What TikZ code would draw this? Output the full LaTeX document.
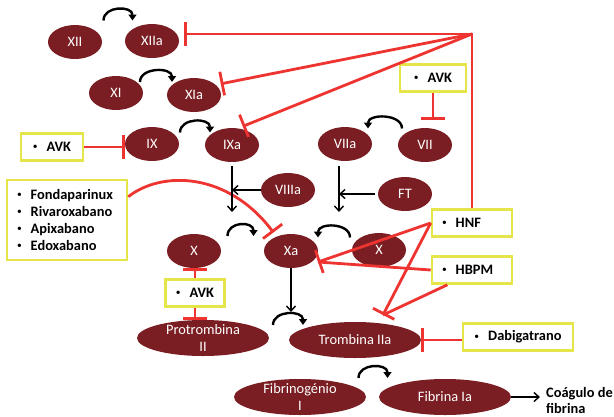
\documentclass[tikz,border=0pt]{standalone}
\usepackage{fontspec}
\setmainfont{Carlito}
\usetikzlibrary{shapes.geometric,arrows.meta,calc}

\definecolor{blutrot}{RGB}{122,30,35}
\definecolor{hemmrot}{RGB}{237,52,48}
\definecolor{gelb}{RGB}{229,229,74}

\begin{document}
\begin{tikzpicture}[x=1pt,y=-1pt,
    font=\fontsize{14.4}{17}\selectfont,
    faktor/.style={ellipse, fill=blutrot, text=white, minimum width=54pt, minimum height=34pt, inner sep=0pt},
    faktorlang/.style={faktor, minimum width=132pt, minimum height=36pt, inner ysep=-8pt, align=center},
    kasten/.style={draw=gelb, line width=2.6pt, fill=white, font=\fontsize{14.4}{17}\selectfont\bfseries, minimum height=27pt},
    hemmlinie/.style={draw=hemmrot, line width=2.8pt},
    hemmung/.style={hemmlinie, -{Bar[width=24pt]}},
    pfeil/.style={draw=black, line width=1.4pt, -{Straight Barb[length=5pt,width=9pt]}},
    umwandlung/.style={draw=black, line width=2.4pt, -{Triangle[length=6pt,width=8pt]}}]

    % Spiegelstrich in den Kästen
    \def\pkt{\raisebox{1.8pt}{\mdseries\fontsize{9.5}{9.5}\selectfont\textbullet}\hspace{9pt}}

    \useasboundingbox (0,0) rectangle (614,416);

    % Gerinnungsfaktoren
    \foreach \n/\x/\y/\t in {XII/75/42/XII, XIIa/152/41/XIIa, XI/116/93/XI, XIa/194/95/XIa,
            IX/152/144/IX, IXa/232/145/IXa, VIIa/345/144/VIIa, VII/425/145/VII,
            VIIIa/288/190/VIIIa, FT/405/194/FT, X/194/251/X, Xa/291/251/Xa, Xr/379/250/X}
        \node[faktor] (\n) at (\x,\y) {\t};
    \foreach \n/\x/\y/\t in {Prot/203/338/{Protrombina\\II}, Trom/355/340/{Trombina IIa},
            Fbg/300/397/{Fibrinogénio\\I}, Fbn/445/397/{Fibrina Ia}}
        \node[faktorlang] (\n) at (\x,\y) {\t};

    % Medikamente
    \node[kasten, minimum width=62pt] (avkL) at (52,147) {\pkt AVK};
    \node[kasten, minimum width=66pt] (avkT) at (433,78) {\pkt AVK};
    \node[kasten, minimum width=59pt] (avkM) at (195,293) {\pkt AVK};
    \node[kasten, text width=100pt, align=left, inner xsep=10pt, minimum height=80pt] (fonda) at (67,220)
        {\pkt Fondaparinux\\\pkt Rivaroxabano\\\pkt Apixabano\\\pkt Edoxabano};
    \node[kasten, text width=60pt, align=left, inner xsep=10pt] (HNF) at (472,223) {\pkt HNF};
    \node[kasten, text width=60pt, align=left, inner xsep=10pt] (HBPM) at (472,270) {\pkt HBPM};
    \node[kasten, minimum width=110pt] (Dab) at (518,337) {\pkt Dabigatrano};
    \node[font=\fontsize{14.4}{16}\selectfont\bfseries, align=left, anchor=north west, inner sep=0pt] (clot)
        at (546,387) {Coágulo de\\fibrina};

    % Hilfspunkte
    \coordinate (hub) at (472,34);
    \coordinate (xahit) at ([shift={(27,11)}]Xa.center);
    \coordinate (trhit) at ([shift={(28,-25)}]Trom.center);
    \coordinate (ixend) at (232,212);
    \coordinate (viiend) at (339,212);
    \coordinate (xaend) at (291,312);

    % Hemmungen
    \draw[hemmung, shorten >=5pt] (HNF.north) -- (hub) -- (hub -| XIIa.east);
    \draw[hemmung, shorten >=5pt] (hub) -- (XIa.25);
    \draw[hemmung, shorten >=5pt] (hub) -- (IXa.70);
    \draw[hemmung] (avkL.east) -- (avkL.east -| IX.west);
    \draw[hemmung, shorten >=8pt] (avkT.south) -- (avkT.south |- VII.north);
    \draw[hemmung] (avkM.north) -- (avkM.north |- X.south);
    \draw[hemmung] (avkM.south) -- (avkM.south |- Prot.north);
    \draw[hemmung, shorten >=5pt] ([yshift=-18pt]fonda.north east) .. controls +(33,-26) and +(-49,-65) .. (Xa.135);
    \draw[hemmung] (HNF.west) -- (xahit);
    \draw[hemmlinie] (HBPM.west) -- (xahit);
    \draw[hemmung] (HNF.west) -- (trhit);
    \draw[hemmlinie] (HBPM.211) -- (trhit);
    \draw[hemmung] (Dab.west |- Trom.east) -- (Trom.east);

    % Kaskade
    \draw[pfeil, shorten <=4pt] (IXa.south) -- (ixend);
    \draw[pfeil] (VIIIa.west) -- (VIIIa.west -| ixend);
    \draw[pfeil, shorten <=5pt] (viiend |- VIIa.south) -- (viiend);
    \draw[pfeil, shorten <=3pt] (FT.west) -- (FT.west -| viiend);
    \draw[pfeil] (Xa.south) -- (xaend);
    \draw[pfeil, shorten >=6pt] (Fbn.east) -- (Fbn.east -| clot.west);

    % Aktivierungsbögen
    \foreach \a/\b/\s/\e/\h in {XII/XIIa/-10/19/21, XI/XIa/-15/17/12, IX/IXa/-12/18/12,
            VII/VIIa/17/-17/16, X/Xa/-15/11/15, Xr/Xa/15/-17/13, Prot/Trom/-6/24/14, Fbg/Fbn/-14/15/19}
        \draw[umwandlung] ($(\a)!.5!(\b)+(\s,-\h)$) .. controls +(0,-15) and +(0,-15) .. ($(\a)!.5!(\b)+(\e,-\h)$);
\end{tikzpicture}
\end{document}
